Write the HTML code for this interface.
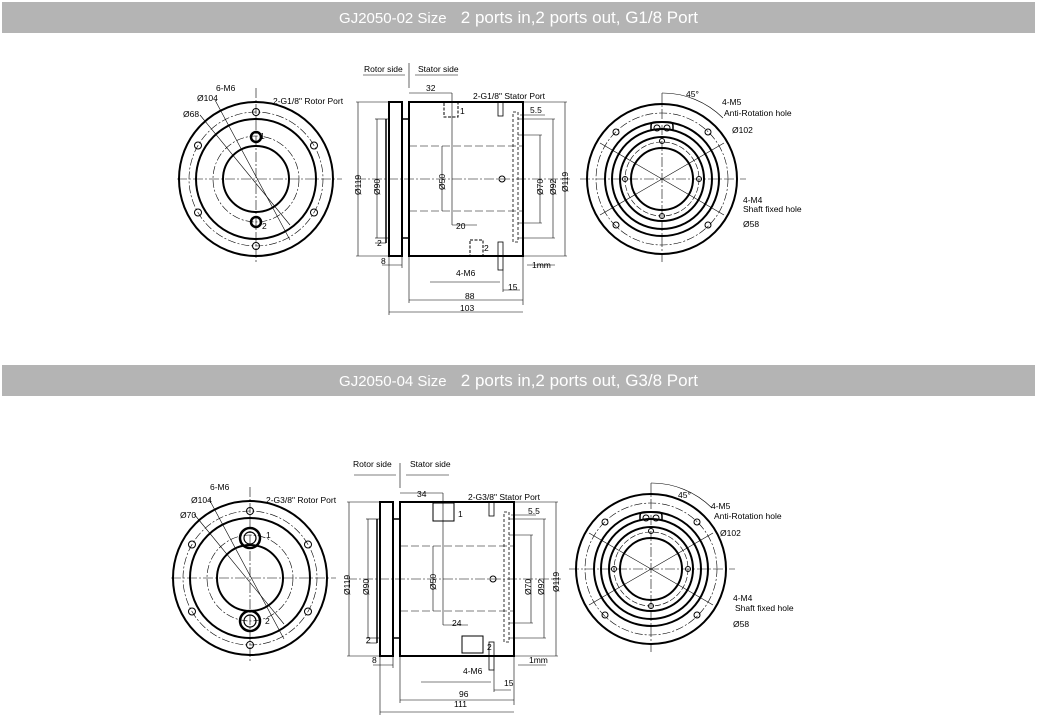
<!DOCTYPE html>
<html><head><meta charset="utf-8"><style>
html,body{margin:0;padding:0;background:#fff;width:1037px;height:715px;overflow:hidden}
.bar{position:absolute;left:2px;width:1033px;height:31px;background:#b4b4b4;color:#fff;font-family:"Liberation Sans",sans-serif;font-size:17px;text-align:center;line-height:31px}
.bar small{font-size:15px}
svg{position:absolute;left:0;top:0}
text{font-family:"Liberation Sans",sans-serif;font-size:8.5px;fill:#000}
</style></head><body>
<div class="bar" style="top:2px"><small>GJ2050-02 Size</small>&nbsp;&nbsp;&nbsp;2 ports in,2 ports out, G1/8 Port</div>
<div class="bar" style="top:365px"><small>GJ2050-04 Size</small>&nbsp;&nbsp;&nbsp;2 ports in,2 ports out, G3/8 Port</div>
<svg width="1037" height="715" viewBox="0 0 1037 715" fill="none" stroke="#000">
<defs>
<g id="lv">
 <line x1="177" y1="179" x2="342" y2="179" stroke-width="0.6" stroke-dasharray="10 2 2 2"/>
 <line x1="256" y1="88" x2="256" y2="263" stroke-width="0.6" stroke-dasharray="10 2 2 2"/>
 <circle cx="256" cy="179" r="77" stroke-width="2"/>
 <circle cx="256" cy="179" r="67" stroke-width="0.6" stroke-dasharray="8 2 2 2"/>
 <circle cx="256" cy="179" r="60" stroke-width="2"/>
 <circle cx="256" cy="179" r="43" stroke-width="0.6" stroke-dasharray="8 2 2 2"/>
 <circle cx="256" cy="179" r="33" stroke-width="2"/>
 <g stroke-width="1">
 <circle cx="256" cy="112" r="3.5"/><circle cx="256" cy="246" r="3.5"/>
 <circle cx="198" cy="145.5" r="3.5"/><circle cx="314" cy="145.5" r="3.5"/>
 <circle cx="198" cy="212.5" r="3.5"/><circle cx="314" cy="212.5" r="3.5"/>
 </g>
 <line x1="215" y1="100" x2="290" y2="240" stroke-width="0.6"/>
 <line x1="200" y1="115" x2="290" y2="225" stroke-width="0.6"/>
</g>
<g id="sv">
 <rect x="389" y="102" width="13" height="154" stroke-width="2"/>
 <rect x="402" y="119" width="7" height="119" stroke-width="1.5"/>
 <rect x="409" y="102" width="114" height="154" stroke-width="2"/>
 <line x1="386" y1="119" x2="386" y2="243" stroke-width="1.5"/>
 <line x1="356" y1="179" x2="570" y2="179" stroke-width="0.6" stroke-dasharray="10 2 2 2"/>
 <line x1="409" y1="146" x2="523" y2="146" stroke-width="0.6" stroke-dasharray="8 3"/>
 <line x1="409" y1="211" x2="523" y2="211" stroke-width="0.6" stroke-dasharray="8 3"/>
 <rect x="513" y="112" width="5" height="130" stroke-width="0.8" stroke-dasharray="3 2"/>
 <circle cx="502" cy="179" r="3" stroke-width="1"/>
 <rect x="498" y="102" width="5" height="14" stroke-width="0.8"/>
 <rect x="498" y="242" width="5" height="28" stroke-width="0.8"/>
 <g stroke-width="0.6">
 <line x1="358" y1="102" x2="358" y2="256"/><line x1="356" y1="102" x2="389" y2="102"/><line x1="356" y1="256" x2="389" y2="256"/>
 <line x1="377" y1="119" x2="377" y2="238"/><line x1="375" y1="119" x2="389" y2="119"/><line x1="375" y1="238" x2="389" y2="238"/>
 <line x1="442" y1="146" x2="442" y2="211"/>
 <line x1="540" y1="135" x2="540" y2="223"/><line x1="518" y1="135" x2="542" y2="135"/><line x1="518" y1="223" x2="542" y2="223"/>
 <line x1="553" y1="119" x2="553" y2="238"/><line x1="518" y1="119" x2="555" y2="119"/><line x1="518" y1="238" x2="555" y2="238"/>
 <line x1="565" y1="102" x2="565" y2="256"/><line x1="523" y1="102" x2="567" y2="102"/><line x1="523" y1="256" x2="567" y2="256"/>
 <line x1="409" y1="93" x2="452" y2="93"/><line x1="452" y1="93" x2="452" y2="225"/>
 <line x1="452" y1="225" x2="477" y2="225"/>
 <line x1="520" y1="115" x2="545" y2="115"/>
 <line x1="389" y1="256" x2="389" y2="315"/><line x1="402" y1="256" x2="402" y2="268"/>
 <line x1="382" y1="265" x2="402" y2="265"/>
 <line x1="523" y1="256" x2="523" y2="305"/>
 <line x1="527" y1="265" x2="555" y2="265"/>
 <line x1="430" y1="282" x2="500" y2="282"/>
 <line x1="503" y1="270" x2="503" y2="292"/><line x1="503" y1="290" x2="520" y2="290"/>
 <line x1="409" y1="256" x2="409" y2="303"/>
 <line x1="409" y1="300" x2="523" y2="300"/><line x1="389" y1="312" x2="523" y2="312"/>
 <line x1="375" y1="243" x2="386" y2="243"/>
 <line x1="363" y1="75" x2="405" y2="75"/><line x1="415" y1="75" x2="458" y2="75"/>
 <line x1="409" y1="63" x2="409" y2="88"/>
 </g>
</g>
<g id="rv">
 <line x1="580" y1="179" x2="746" y2="179" stroke-width="0.6" stroke-dasharray="10 2 2 2"/>
 <line x1="662" y1="93" x2="662" y2="262" stroke-width="0.6" stroke-dasharray="10 2 2 2"/>
 <circle cx="662" cy="179" r="75" stroke-width="2"/>
 <circle cx="662" cy="179" r="66" stroke-width="0.6" stroke-dasharray="8 2 2 2"/>
 <circle cx="662" cy="179" r="57" stroke-width="2"/>
 <circle cx="662" cy="179" r="50" stroke-width="2"/>
 <circle cx="662" cy="179" r="42" stroke-width="2"/>
 <circle cx="662" cy="179" r="37" stroke-width="0.6" stroke-dasharray="6 2"/>
 <circle cx="662" cy="179" r="31" stroke-width="2"/>
 <g stroke-width="1">
 <circle cx="616" cy="132" r="3"/><circle cx="708" cy="132" r="3"/><circle cx="616" cy="225" r="3"/><circle cx="708" cy="225" r="3"/>
 <circle cx="662" cy="141" r="2.5"/><circle cx="662" cy="216" r="2.5"/><circle cx="625" cy="179" r="2.5"/><circle cx="699" cy="179" r="2.5"/>
 <circle cx="657" cy="128" r="3"/><circle cx="667" cy="128" r="3"/>
 </g>
 <path d="M651 131 v-5 q0 -4 4 -4 h14 q4 0 4 4 v5" stroke-width="1.5"/>
 <line x1="600" y1="143" x2="724" y2="215" stroke-width="0.6"/><line x1="600" y1="215" x2="724" y2="143" stroke-width="0.6"/>
 <path d="M662 93 A86 86 0 0 1 723 118" stroke-width="0.6"/>
</g>
</defs>
<use href="#lv"/><use href="#sv"/><use href="#rv"/>
<use href="#lv" transform="translate(-6,399)"/><use href="#sv" transform="translate(-9,400)"/><use href="#rv" transform="translate(-11,390)"/>
<!-- port holes top -->
<g stroke-width="2.5">
<circle cx="256" cy="137" r="5"/><circle cx="256" cy="222" r="5"/>
<circle cx="250" cy="538" r="10"/><circle cx="250" cy="621" r="10"/>
</g>
<g stroke-width="1.2">
<circle cx="250" cy="538" r="6"/><circle cx="250" cy="621" r="6"/>
</g>
<g stroke-width="1">
<rect x="444" y="102" width="14" height="15" stroke-dasharray="3 1.5"/>
<rect x="470" y="240" width="13" height="16" stroke-dasharray="3 1.5"/>
<rect x="433" y="503" width="21" height="18"/>
<rect x="462" y="636" width="21" height="17"/>
</g>
<g stroke="none">
<!-- top labels -->
<text x="216" y="91">6-M6</text><text x="197" y="101">Ø104</text><text x="183" y="117">Ø68</text>
<text x="273" y="104">2-G1/8" Rotor Port</text>
<text x="260" y="139">1</text><text x="262" y="229">2</text>
<text x="364" y="72" font-size="7.5">Rotor side</text><text x="418" y="72" font-size="7.5">Stator side</text>
<text x="426" y="91">32</text><text x="473" y="99">2-G1/8" Stator Port</text>
<text x="530" y="113">5.5</text><text x="460" y="114">1</text><text x="484" y="251">2</text>
<text x="456" y="229">20</text><text x="456" y="276">4-M6</text>
<text x="377" y="246">2</text><text x="381" y="264">8</text><text x="532" y="268">1mm</text>
<text x="508" y="290">15</text><text x="465" y="299">88</text><text x="460" y="311">103</text>
<text transform="translate(361,195) rotate(-90)">Ø119</text>
<text transform="translate(380,195) rotate(-90)">Ø90</text>
<text transform="translate(445,190) rotate(-90)">Ø50</text>
<text transform="translate(543,195) rotate(-90)">Ø70</text>
<text transform="translate(556,195) rotate(-90)">Ø92</text>
<text transform="translate(568,192) rotate(-90)">Ø119</text>
<text x="686" y="97" font-size="7.5">45°</text>
<text x="722" y="105">4-M5</text><text x="724" y="116">Anti-Rotation hole</text>
<text x="732" y="133">Ø102</text><text x="743" y="203">4-M4</text><text x="743" y="212">Shaft fixed hole</text>
<text x="743" y="227">Ø58</text>
<!-- bottom labels -->
<text x="210" y="490">6-M6</text><text x="191" y="503">Ø104</text><text x="180" y="518">Ø70</text>
<text x="266" y="503">2-G3/8" Rotor Port</text>
<text x="266" y="538">1</text><text x="265" y="624">2</text>
<text x="353" y="467" font-size="7.5">Rotor side</text><text x="410" y="467" font-size="7.5">Stator side</text>
<text x="417" y="497">34</text><text x="468" y="500">2-G3/8" Stator Port</text>
<text x="528" y="514">5.5</text><text x="458" y="517">1</text><text x="487" y="650">2</text>
<text x="452" y="626">24</text><text x="463" y="674">4-M6</text>
<text x="366" y="643">2</text><text x="372" y="663">8</text><text x="529" y="663">1mm</text>
<text x="504" y="686">15</text><text x="459" y="697">96</text><text x="454" y="707">111</text>
<text transform="translate(350,595) rotate(-90)">Ø119</text>
<text transform="translate(369,595) rotate(-90)">Ø90</text>
<text transform="translate(436,590) rotate(-90)">Ø50</text>
<text transform="translate(531,595) rotate(-90)">Ø70</text>
<text transform="translate(544,595) rotate(-90)">Ø92</text>
<text transform="translate(559,592) rotate(-90)">Ø119</text>
<text x="678" y="498" font-size="7.5">45°</text>
<text x="711" y="509">4-M5</text><text x="714" y="519">Anti-Rotation hole</text>
<text x="720" y="536">Ø102</text><text x="733" y="601">4-M4</text><text x="735" y="611">Shaft fixed hole</text>
<text x="733" y="627">Ø58</text>
</g>
</svg>
</body></html>
